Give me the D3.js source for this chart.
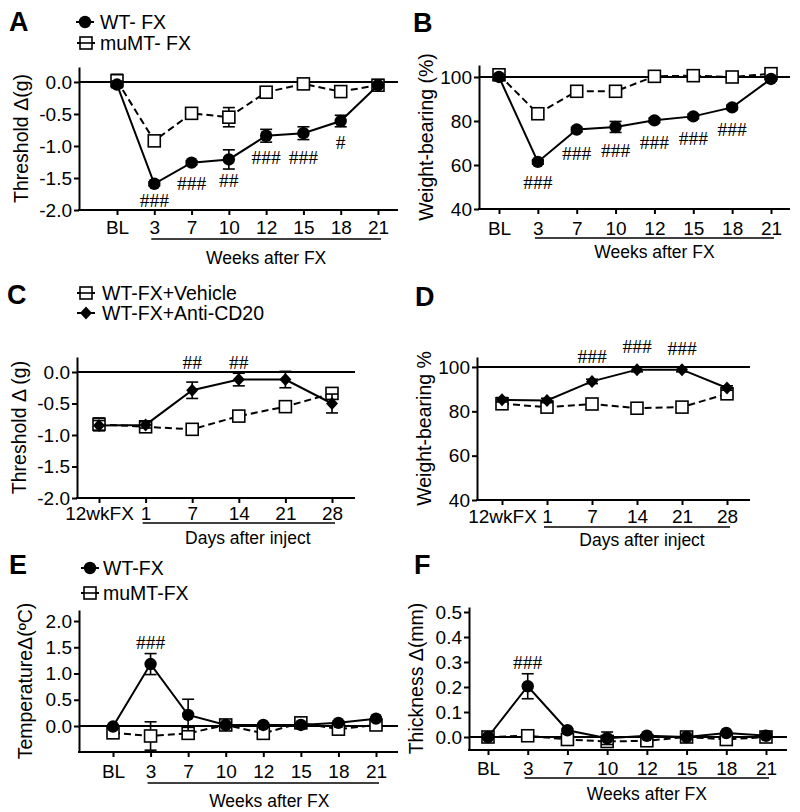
<!DOCTYPE html>
<html><head><meta charset="utf-8">
<script src="https://cdn.jsdelivr.net/npm/d3@7"></script>
<style>
body{margin:0;background:#fff}
svg{display:block}
text{font-family:"Liberation Sans",Arial,Helvetica,sans-serif;fill:#000}
</style>
</head><body>
<svg id="c" width="800" height="812"></svg>
<script>
// ---------- DATA ----------
const weeks = ["BL","3","7","10","12","15","18","21"];
const days  = ["12wkFX","1","7","14","21","28"];

// Panel A: Threshold Δ(g)
const aWT      = [-0.04,-1.59,-1.26,-1.21,-0.84,-0.80,-0.61,-0.05];
const aWTerr   = [0.05,0.03,0.03,0.15,0.10,0.10,0.09,0.03];
const aMu      = [0.02,-0.92,-0.49,-0.55,-0.16,-0.03,-0.15,-0.05];
const aMuErr   = [0.10,0.05,0.03,0.15,0.08,0.03,0.07,0.03];
const aSig     = [["3","###",-1.84],["7","###",-1.58],["10","##",-1.53],["12","###",-1.17],["15","###",-1.17],["18","#",-0.94]];

// Panel B: Weight-bearing (%)
const bWT      = [100,61.4,76.1,77.3,80.3,82.1,86.2,99.1];
const bWTerr   = [1,1,1,2.5,1,1,1,1];
const bMu      = [101,83.3,93.5,93.5,100.3,100.6,100,101.5];
const bMuErr   = [1,1,1,1,1,1,1,1];
const bSig     = [["3","###",52.3],["7","###",65.5],["10","###",66.8],["12","###",70.5],["15","###",72.3],["18","###",76.4]];

// Panel C: Threshold Δ (g)
const cVeh     = [-0.83,-0.87,-0.91,-0.70,-0.55,-0.34];
const cVehErr  = [0.10,0.07,0.04,0.06,0.07,0.04];
const cAnti    = [-0.85,-0.84,-0.29,-0.12,-0.12,-0.50];
const cAntiErr = [0.08,0.05,0.13,0.10,0.13,0.15];
const cSig     = [["7","##",0.16],["14","##",0.16]];

// Panel D: Weight-bearing %
const dVeh     = [83.4,81.9,83.3,81.4,81.9,87.9];
const dVehErr  = [1,1,1,1,1,1];
const dAnti    = [85.2,84.9,93.5,98.8,98.8,90.5];
const dAntiErr = [1,1,1,1,1,1];
const dSig     = [["7","###",105],["14","###",109.5],["21","###",108.6]];

// Panel E: Temperature Δ
const eWT      = [-0.01,1.18,0.21,0.02,0.02,0.02,0.06,0.14];
const eWTerr   = [0.03,0.20,0.30,0.03,0.03,0.03,0.03,0.03];
const eMu      = [-0.13,-0.19,-0.14,0.02,-0.14,0.06,-0.06,0.02];
const eMuErr   = [0.03,0.27,0.05,0.03,0.03,0.03,0.03,0.03];
const eSig     = [["3","###",1.6]];

// Panel F: Thickness Δ(mm)
const fWT      = [0.0,0.203,0.027,-0.005,0.005,0.0,0.016,0.005];
const fWTerr   = [0.005,0.05,0.005,0.025,0.005,0.005,0.005,0.005];
const fMu      = [0.0,0.005,-0.01,-0.018,-0.015,0.0,-0.01,0.0];
const fMuErr   = [0.005,0.005,0.005,0.005,0.005,0.005,0.005,0.005];
const fSig     = [["3","###",0.3]];

// ---------- DRAWING ----------
const svg = d3.select("#c");
const f1 = d => d.toFixed(1);
const f0 = d => String(d);

function marker(sel, shape) {
  if (shape === "circle") {
    sel.append("circle").attr("r", 6.2).attr("fill", "#000");
  } else if (shape === "square") {
    sel.append("rect").attr("x", -6).attr("y", -6).attr("width", 12).attr("height", 12)
      .attr("fill", "#fff").attr("stroke", "#000").attr("stroke-width", 1.6);
  } else {
    sel.append("path").attr("d", "M0,-6.5L6,0L0,6.5L-6,0Z").attr("fill", "#000");
  }
}

function panel(o) {
  const g = svg.append("g");
  const x = d3.scalePoint().domain(o.cats).range(o.xr);
  const y = d3.scaleLinear().domain(o.yd).range(o.yr);
  const axisY = o.yr[0];

  // y axis
  const ya = g.append("g").attr("transform", `translate(${o.left},0)`)
    .call(d3.axisLeft(y).tickValues(o.yticks).tickFormat(o.fmt).tickSize(5).tickPadding(2).tickSizeOuter(0));
  ya.attr("font-size", null).attr("font-family", null);
  ya.select(".domain").attr("stroke-width", 2);
  ya.selectAll(".tick line").attr("stroke-width", 2);
  ya.selectAll(".tick text").style("font-size", "19px");

  // x axis (ticks + labels), custom domain line
  const xa = g.append("g").attr("transform", `translate(0,${axisY})`)
    .call(d3.axisBottom(x).tickSize(5).tickSizeOuter(0));
  xa.attr("font-size", null).attr("font-family", null);
  xa.select(".domain").remove();
  xa.selectAll(".tick line").attr("stroke-width", 2);
  xa.selectAll(".tick text").attr("y", o.lbl).attr("dy", null).style("font-size", "19px");
  g.append("line").attr("x1", o.left - 1).attr("x2", o.right).attr("y1", axisY).attr("y2", axisY)
    .attr("stroke", "#000").attr("stroke-width", 2);

  // reference line
  g.append("line").attr("x1", o.left).attr("x2", o.right).attr("y1", y(o.ref)).attr("y2", y(o.ref))
    .attr("stroke", "#000").attr("stroke-width", 2);

  // underline + x title
  const u1 = x(o.cats[1]) - 3, u2 = x(o.cats[o.cats.length - 1]) + 3;
  g.append("line").attr("x1", u1).attr("x2", u2).attr("y1", axisY + o.ul).attr("y2", axisY + o.ul)
    .attr("stroke", "#000").attr("stroke-width", 1.5);
  g.append("text").attr("x", (u1 + u2) / 2 + (o.tdx || 0)).attr("y", axisY + o.title)
    .attr("text-anchor", "middle").style("font-size", "17.5px").text(o.xtitle);

  // y title
  g.append("text").attr("transform", `translate(${o.ytx},${(o.yr[0] + o.yr[1]) / 2}) rotate(-90)`)
    .attr("text-anchor", "middle").style("font-size", "19.5px").text(o.ytitle);

  // panel letter
  g.append("text").attr("x", o.letterPos[0]).attr("y", o.letterPos[1])
    .style("font-size", "27px").style("font-weight", "bold").text(o.letter);

  // series (open squares first)
  const ordered = o.series.slice().sort((a, b) => (a.shape === "square" ? -1 : 0) - (b.shape === "square" ? -1 : 0));
  ordered.forEach(s => {
    const pts = s.vals.map((v, i) => ({ c: o.cats[i], v, e: s.err[i] }));
    g.append("path").datum(pts)
      .attr("d", d3.line().x(d => x(d.c)).y(d => y(d.v)))
      .attr("fill", "none").attr("stroke", "#000").attr("stroke-width", 2)
      .attr("stroke-dasharray", s.dashed ? "7,4" : null);
    const eb = g.append("g").selectAll("g").data(pts).join("g");
    eb.append("line").attr("x1", d => x(d.c)).attr("x2", d => x(d.c))
      .attr("y1", d => y(d.v - d.e)).attr("y2", d => y(d.v + d.e)).attr("stroke", "#000").attr("stroke-width", 1.6);
    [-1, 1].forEach(k => {
      eb.append("line").attr("x1", d => x(d.c) - 6).attr("x2", d => x(d.c) + 6)
        .attr("y1", d => y(d.v + k * d.e)).attr("y2", d => y(d.v + k * d.e))
        .attr("stroke", "#000").attr("stroke-width", 1.6);
    });
    const m = g.append("g").selectAll("g").data(pts).join("g")
      .attr("transform", d => `translate(${x(d.c)},${y(d.v)})`);
    marker(m, s.shape);
  });

  // significance marks
  g.append("g").selectAll("text").data(o.sig).join("text")
    .attr("x", d => x(d[0])).attr("y", d => y(d[2])).attr("dy", "0.36em")
    .attr("text-anchor", "middle")
    .style("font-family", "'Liberation Serif','Times New Roman',serif").style("font-size", "19.5px")
    .text(d => d[1]);

  // legend
  (o.legend || []).forEach(L => {
    const lg = g.append("g").attr("transform", `translate(${L.x},${L.y})`);
    lg.append("line").attr("x1", -9).attr("x2", 9).attr("stroke", "#000").attr("stroke-width", 2);
    marker(lg, L.shape);
    if (L.shape === "square") lg.append("line").attr("x1", -9).attr("x2", 9).attr("stroke", "#000").attr("stroke-width", 1.6);
    lg.append("text").attr("x", L.tx).attr("y", 7).style("font-size", "19.5px").text(L.label);
  });
}

panel({
  letter: "A", letterPos: [9, 31], cats: weeks,
  left: 79, right: 398, xr: [117, 378], yr: [210, 67], yd: [-2, 0.234],
  yticks: [-2, -1.5, -1, -0.5, 0], fmt: f1, ref: 0,
  lbl: 24, ul: 29, title: 54, xtitle: "Weeks after FX",
  ytx: 28, ytitle: "Threshold \u0394(g)",
  series: [{ vals: aWT, err: aWTerr, shape: "circle", dashed: false },
           { vals: aMu, err: aMuErr, shape: "square", dashed: true }],
  sig: aSig,
  legend: [{ x: 85, y: 22, shape: "circle", label: "WT- FX", tx: 15 },
           { x: 86, y: 43, shape: "square", label: "muMT- FX", tx: 14 }]
});

panel({
  letter: "B", letterPos: [413, 32], cats: weeks,
  left: 479, right: 790, xr: [499, 771], yr: [209, 65], yd: [40, 105.45],
  yticks: [40, 60, 80, 100], fmt: f0, ref: 100,
  lbl: 26, ul: 29, title: 49, xtitle: "Weeks after FX",
  ytx: 433, ytitle: "Weight-bearing (%)",
  series: [{ vals: bWT, err: bWTerr, shape: "circle", dashed: false },
           { vals: bMu, err: bMuErr, shape: "square", dashed: true }],
  sig: bSig
});

panel({
  letter: "C", letterPos: [7, 304], cats: days,
  left: 77, right: 355, xr: [99, 332], yr: [498, 357], yd: [-2, 0.238],
  yticks: [-2, -1.5, -1, -0.5, 0], fmt: f1, ref: 0,
  lbl: 22, ul: 25, title: 46, tdx: 9, xtitle: "Days after inject",
  ytx: 26, ytitle: "Threshold \u0394 (g)",
  series: [{ vals: cVeh, err: cVehErr, shape: "square", dashed: true },
           { vals: cAnti, err: cAntiErr, shape: "diamond", dashed: false }],
  sig: cSig,
  legend: [{ x: 86, y: 293, shape: "square", label: "WT-FX+Vehicle", tx: 16 },
           { x: 86, y: 313, shape: "diamond", label: "WT-FX+Anti-CD20", tx: 16 }]
});

panel({
  letter: "D", letterPos: [415, 306], cats: days,
  left: 477, right: 750, xr: [502, 727], yr: [500, 357], yd: [40, 104.5],
  yticks: [40, 60, 80, 100], fmt: f0, ref: 100,
  lbl: 23, ul: 27, title: 46, tdx: 5, xtitle: "Days after inject",
  ytx: 431, ytitle: "Weight-bearing %",
  series: [{ vals: dVeh, err: dVehErr, shape: "square", dashed: true },
           { vals: dAnti, err: dAntiErr, shape: "diamond", dashed: false }],
  sig: dSig
});

panel({
  letter: "E", letterPos: [9, 574], cats: weeks,
  left: 79, right: 398, xr: [113, 376], yr: [752, 610], yd: [-0.495, 2.21],
  yticks: [0, 0.5, 1, 1.5, 2], fmt: f1, ref: 0,
  lbl: 26, ul: 31, title: 55, tdx: 6, xtitle: "Weeks after FX",
  ytx: 32, ytitle: "Temperature\u0394(\u00baC)",
  series: [{ vals: eWT, err: eWTerr, shape: "circle", dashed: false },
           { vals: eMu, err: eMuErr, shape: "square", dashed: true }],
  sig: eSig,
  legend: [{ x: 90, y: 568, shape: "circle", label: "WT-FX", tx: 13 },
           { x: 90, y: 593, shape: "square", label: "muMT-FX", tx: 13 }]
});

panel({
  letter: "F", letterPos: [414, 574], cats: weeks,
  left: 469, right: 787, xr: [488, 766], yr: [750, 607], yd: [-0.052, 0.52],
  yticks: [0, 0.1, 0.2, 0.3, 0.4, 0.5], fmt: f1, ref: 0,
  lbl: 25, ul: 28, title: 50, xtitle: "Weeks after FX",
  ytx: 423, ytitle: "Thickness \u0394(mm)",
  series: [{ vals: fWT, err: fWTerr, shape: "circle", dashed: false },
           { vals: fMu, err: fMuErr, shape: "square", dashed: true }],
  sig: fSig
});
</script>
</body></html>
